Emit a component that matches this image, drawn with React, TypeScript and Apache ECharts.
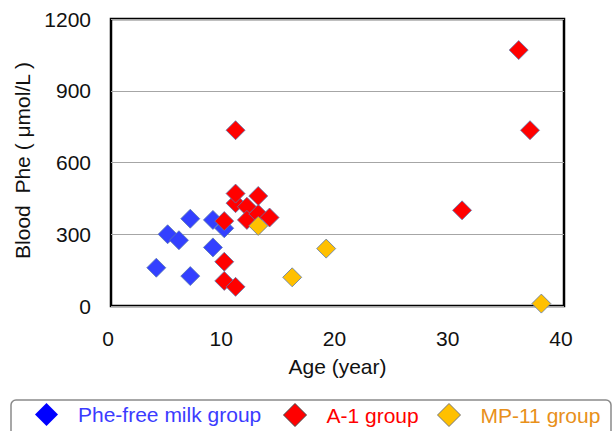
import React, { useEffect, useRef } from "react";
import * as echarts from "echarts";

const seriesNames = ["Phe-free milk group", "A-1 group", "MP-11 group"];

const pheFreeAge = [4, 5, 6, 7, 7, 9, 9, 10];
const pheFreePhe = [160, 300, 275, 365, 125, 360, 245, 325];

const a1Age = [10, 10, 10, 11, 11, 11, 11, 12, 12, 13, 13, 14, 31, 36, 37];
const a1Phe = [355, 185, 105, 735, 430, 470, 80, 415, 360, 385, 460, 370, 400, 1070, 735];

const mp11Age = [13, 16, 19, 38];
const mp11Phe = [335, 120, 240, 10];

const xTicks = [0, 10, 20, 30, 40];
const yTicks = [0, 300, 600, 900, 1200];

const FONT = '"Liberation Sans", Arial, Helvetica, sans-serif';

function pairs(xs: number[], ys: number[]) {
  return xs.map((x, i) => [x, ys[i]]);
}

export default function App() {
  const ref = useRef<HTMLDivElement>(null);
  useEffect(() => {
    if (!ref.current) return;
    const chart = echarts.init(ref.current, undefined, { renderer: "svg" });
    const markerBorder = { borderColor: "#5a78b0", borderWidth: 0.8, opacity: 1 };
    const legendBase = {
      top: 398,
      icon: "diamond",
      itemWidth: 23,
      itemHeight: 23,
      itemGap: 0,
    };
    chart.setOption({
      animation: false,
      backgroundColor: "#ffffff",
      textStyle: { fontFamily: FONT },
      grid: {
        left: 111,
        top: 19,
        right: 50,
        bottom: 125,
        show: true,
        borderColor: "#000000",
        borderWidth: 2.5,
      },
      xAxis: {
        type: "value",
        min: xTicks[0],
        max: xTicks[xTicks.length - 1],
        interval: 10,
        name: "Age (year)",
        nameLocation: "middle",
        nameGap: 50,
        nameTextStyle: { fontSize: 21, color: "#111", fontFamily: FONT },
        axisLine: { show: false },
        axisTick: { show: false },
        splitLine: { show: false },
        axisLabel: {
          fontSize: 21,
          color: "#111",
          margin: 22,
          fontFamily: FONT,
          padding: [0, 6, 0, 0],
          formatter: (v: number) => String(v),
        },
      },
      yAxis: {
        type: "value",
        min: yTicks[0],
        max: yTicks[yTicks.length - 1],
        interval: 300,
        name: "Blood  Phe ( μmol/L )",
        nameLocation: "middle",
        nameGap: 65,
        nameRotate: 90,
        nameTextStyle: { fontSize: 21, color: "#111", fontFamily: FONT, padding: [0, 0, 0, 4] },
        axisLine: { show: false },
        axisTick: { show: false },
        splitLine: { show: true, lineStyle: { color: "#a6a6a6", width: 1 } },
        axisLabel: {
          fontSize: 21,
          color: "#111",
          margin: 20,
          fontFamily: FONT,
          formatter: (v: number) => String(v),
        },
      },
      legend: [
        {
          ...legendBase,
          left: 30,
          textStyle: { fontSize: 21, color: "#3b3bff", fontFamily: FONT, padding: [0, 0, 0, 15] },
          data: [{ name: seriesNames[0], itemStyle: { color: "#0000ff", borderWidth: 0 } }],
        },
        {
          ...legendBase,
          left: 278,
          textStyle: { fontSize: 21, color: "#ff0000", fontFamily: FONT, padding: [0, 0, 0, 15] },
          data: [{ name: seriesNames[1], itemStyle: { color: "#ff0000", borderColor: "#444", borderWidth: 1 } }],
        },
        {
          ...legendBase,
          left: 432,
          textStyle: { fontSize: 21, color: "#e8901a", fontFamily: FONT, padding: [0, 0, 0, 15] },
          data: [{ name: seriesNames[2], itemStyle: { color: "#ffc000", borderColor: "#777", borderWidth: 1 } }],
        },
      ],
      graphic: [
        {
          type: "rect",
          shape: { x: 11, y: 400, width: 600, height: 45, r: 5 },
          style: { fill: "none", stroke: "#8a8a8a", lineWidth: 1.5 },
          silent: true,
        },
      ],
      series: [
        {
          name: seriesNames[0],
          type: "scatter",
          symbol: "diamond",
          symbolSize: 19,
          itemStyle: { color: "#3340ff", ...markerBorder },
          data: pairs(pheFreeAge, pheFreePhe),
        },
        {
          name: seriesNames[1],
          type: "scatter",
          symbol: "diamond",
          symbolSize: 19,
          itemStyle: { color: "#ff0000", ...markerBorder },
          data: pairs(a1Age, a1Phe),
        },
        {
          name: seriesNames[2],
          type: "scatter",
          symbol: "diamond",
          symbolSize: 19,
          itemStyle: { color: "#ffc000", ...markerBorder },
          data: pairs(mp11Age, mp11Phe),
        },
      ],
    });
    return () => chart.dispose();
  }, []);
  return (
    <div
      ref={ref}
      style={{ position: "fixed", left: 0, top: 0, width: 614, height: 431 }}
    />
  );
}
